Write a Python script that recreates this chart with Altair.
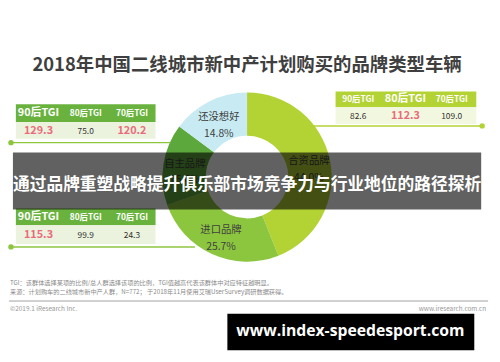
import altair as alt
import pandas as pd

# ---------------- data ----------------
title = "2018年中国二线城市新中产计划购买的品牌类型车辆"
categories = ["合资品牌", "进口品牌", "自主品牌", "还没想好"]
shares = [44.0, 25.7, 15.6, 14.8]
slice_colors = ["#b3d234", "#8cc63f", "#5da83c", "#c8ebf3"]

tgi_headers = ["90后TGI", "80后TGI", "70后TGI"]
tgi_joint = [82.6, 112.3, 109.0]      # 合资品牌
tgi_domestic = [129.3, 75.0, 120.2]   # 自主品牌
tgi_import = [115.3, 99.9, 24.3]      # 进口品牌

banner_text = "通过品牌重塑战略提升俱乐部市场竞争力与行业地位的路径探析"
note1 = "TGI：该群体选择某项的比例/总人群选择该项的比例，TGI值越高代表该群体中对应特征越明显。"
note2 = "来源：计划购车的二线城市新中产人群，N=772； 于2018年11月使用艾瑞UserSurvey调研数据获得。"
copyright_text = "©2019.1 iResearch Inc."
site_text = "www.iresearch.com.cn"
watermark = "www.index-speedesport.com"

# ---------------- helpers ----------------
OX, OY = 8, 8
FONT = "Noto Sans CJK SC"
PINK = "#e96b7c"
DARK = "#333333"


def one():
    return pd.DataFrame({"k": [0]})


def rect(x1, y1, x2, y2, color, opacity=1.0):
    return alt.Chart(one()).mark_rect(color=color, opacity=opacity).encode(
        x=alt.value(x1 - OX), x2=alt.value(x2 - OX),
        y=alt.value(y1 - OY), y2=alt.value(y2 - OY))


def hline(x1, x2, y, color, w=1.5):
    return alt.Chart(one()).mark_rule(color=color, strokeWidth=w).encode(
        x=alt.value(x1 - OX), x2=alt.value(x2 - OX), y=alt.value(y - OY))


def dot(x, y, color):
    return alt.Chart(one()).mark_circle(color=color, opacity=1, size=30).encode(
        x=alt.value(x - OX), y=alt.value(y - OY))


def text(s, x, y, size, color, weight="normal", align="center", font=FONT):
    return alt.Chart(pd.DataFrame({"t": [s]})).mark_text(
        fontSize=size, color=color, fontWeight=weight, align=align,
        baseline="middle", font=font).encode(
        x=alt.value(x - OX), y=alt.value(y - OY), text="t:N")


def table(x1, x2, y_top, y_mid, y_bot, head_color, body_color, values,
          big_idx, col_x, pink_idx):
    out = [rect(x1, y_top, x2, y_mid, head_color),
           rect(x1, y_mid, x2, y_bot, body_color)]
    hy = (y_top + y_mid) / 2
    vy = (y_mid + y_bot) / 2 + 0.5
    for i, (h, v, cx) in enumerate(zip(tgi_headers, values, col_x)):
        big = i == big_idx
        out.append(text(h, cx, hy, 11 if big else 8.5, "white", "bold"))
        if i in pink_idx:
            out.append(text(f"{v:.1f}", cx, vy, 11, PINK, "bold"))
        else:
            out.append(text(f"{v:.1f}", cx, vy, 8.5, DARK))
    return out


# ---------------- donut ----------------
df = pd.DataFrame({
    "cat": categories,
    "share": shares,
    "idx": list(range(len(categories))),
    "label": [f"{c}\n{s:.1f}%" for c, s in zip(categories, shares)],
})
CX, CY = 250, 177

arc = alt.Chart(df).mark_arc(innerRadius=42, outerRadius=86).encode(
    theta=alt.Theta("share:Q", stack=True),
    order=alt.Order("idx:Q"),
    color=alt.Color("cat:N", scale=alt.Scale(domain=categories, range=slice_colors), legend=None),
    x=alt.value(CX - OX), y=alt.value(CY - OY))

arc_labels = alt.Chart(df).mark_text(
    radius=64, lineBreak="\n", fontSize=10.5, lineHeight=17,
    color="#404040", font=FONT).encode(
    theta=alt.Theta("share:Q", stack=True),
    order=alt.Order("idx:Q"),
    text="label:N",
    x=alt.value(CX - OX), y=alt.value(CY - OY - 4))

layers = [arc, arc_labels]

# connector lines
layers += [hline(10, 172, 142, "#8cc63f"), dot(10, 142, "#8cc63f"),
           hline(10, 197, 248, "#8cc63f"), dot(10, 248, "#8cc63f"),
           hline(318, 489, 125, "#b3d234"), dot(489, 125, "#b3d234")]

# tables
layers += table(15, 157, 103, 121, 138, "#6ab23e", "#ebf3de", tgi_domestic,
                0, [38, 86, 133], [0, 2])
layers += table(15, 157, 209, 226, 245, "#6ab23e", "#ebf3de", tgi_import,
                0, [38, 86, 133], [0])
layers += table(340, 483, 90, 106, 123, "#b3d234", "#f2f7df", tgi_joint,
                1, [363, 411, 458], [1])

# title
layers.append(text(title, 250, 63, 18.7, "#3f3f3f", "bold"))

# banner overlay
layers.append(rect(12, 152, 488, 210, "#000000", 0.62))
layers.append(text(banner_text, 250, 185, 17, "white", "bold"))

# footer
layers.append(text(note1, 9, 285, 6.3, "#8a8a8a", align="left"))
layers.append(text(note2, 9, 294, 6.3, "#8a8a8a", align="left"))
layers.append(hline(8, 495, 303, "#a0a0a0", 1))
layers.append(text(copyright_text, 9, 311, 6.5, "#999999", align="left"))
layers.append(text(site_text, 493, 311, 6.5, "#999999", align="right"))

# watermark box
layers.append(rect(230, 316, 481, 353, "#000000"))
layers.append(text(watermark, 355, 334, 16, "white", "bold", font="Open Sans"))

chart = alt.layer(*layers).properties(
    width=492, height=346,
    autosize=alt.AutoSizeParams(type="fit", contains="padding"),
    padding=0, background="white",
).configure_view(stroke=None)

chart.save("out.html", embed_options={"renderer": "svg", "actions": False})
